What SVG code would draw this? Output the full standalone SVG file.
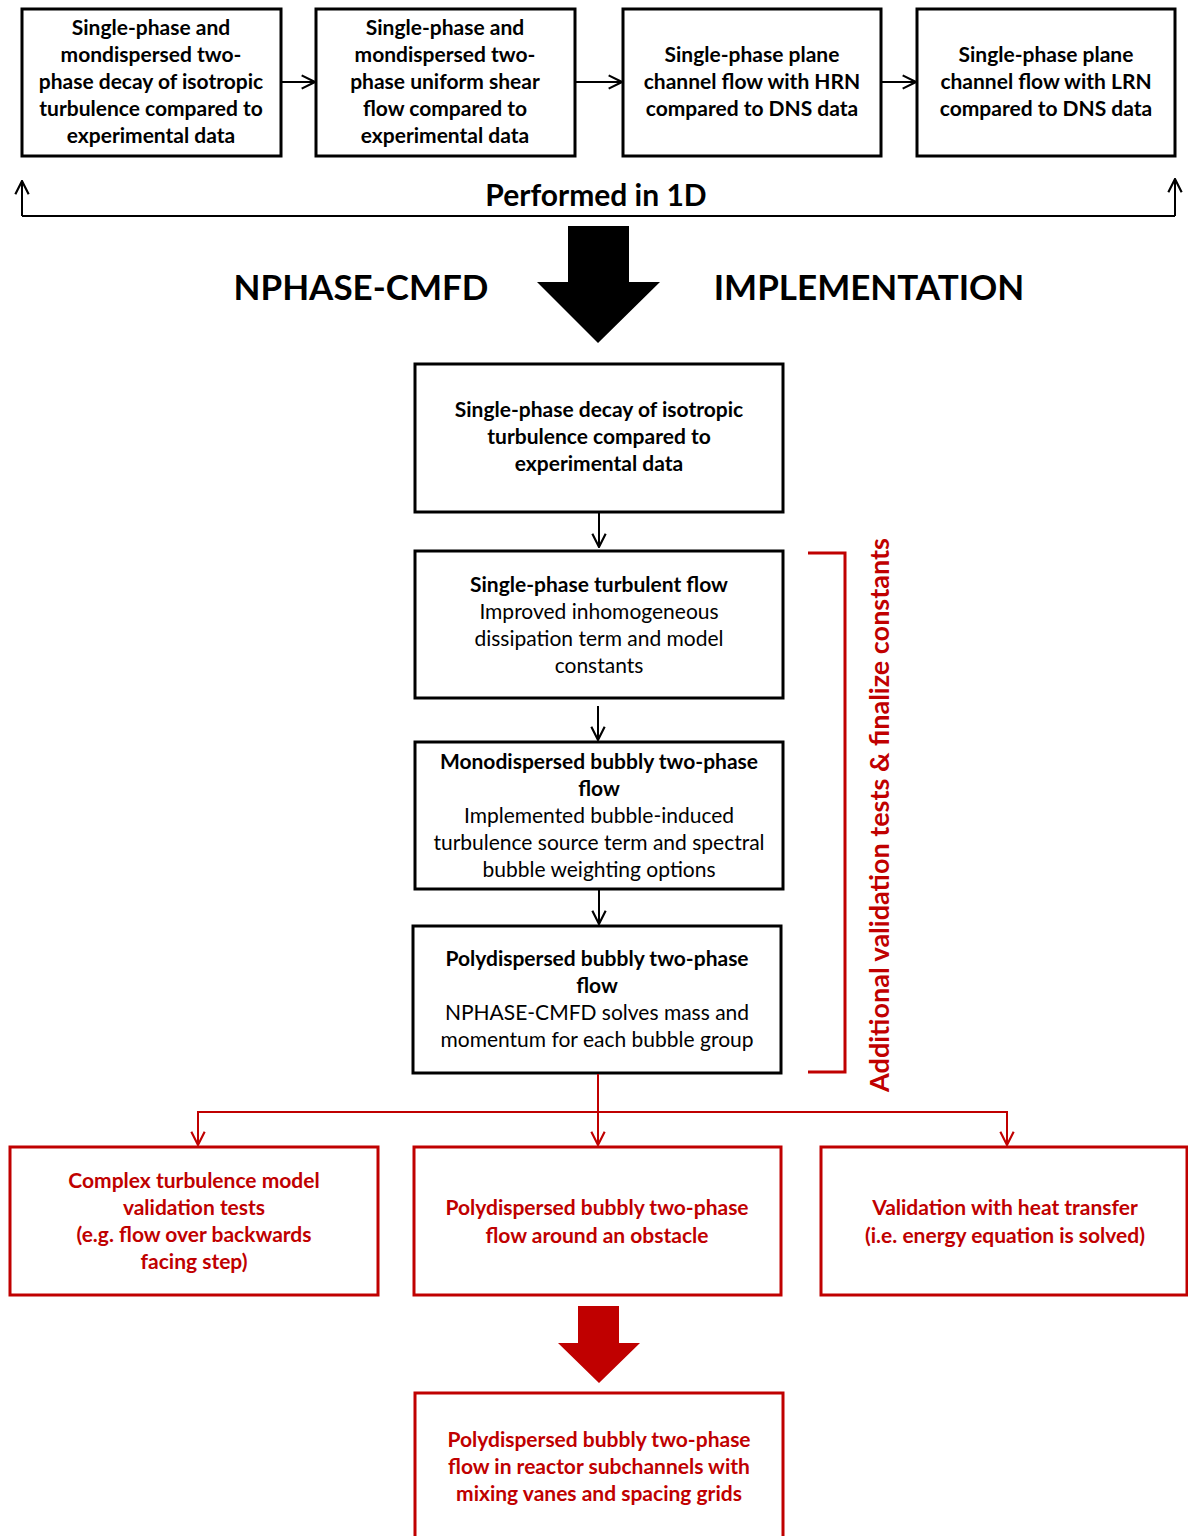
<svg xmlns="http://www.w3.org/2000/svg" width="1188" height="1536" viewBox="0 0 1188 1536">
  <defs>
    <style>
      .box { fill: #ffffff; stroke: #000000; stroke-width: 3; }
      .rbox { fill: #ffffff; stroke: #c00000; stroke-width: 3; }
      .t { font-family: Lato, "Open Sans", sans-serif; font-size: 21px; text-anchor: middle; fill: #000000; }
      .b { font-weight: bold; }
      .r { fill: #c00000; }
      .conn { fill: none; stroke: #000000; stroke-width: 2; }
      .rconn { fill: none; stroke: #c00000; stroke-width: 2; }
      .big { font-family: Lato, "Open Sans", sans-serif; font-weight: bold; fill: #000000; }
    </style>
    <marker id="open" viewBox="0 0 12 12" refX="11" refY="6" markerWidth="16" markerHeight="16" markerUnits="userSpaceOnUse" orient="auto">
      <path d="M1,1 L11,6 L1,11" fill="none" stroke="#000000" stroke-width="1.6"/>
    </marker>
    <marker id="openr" viewBox="0 0 12 12" refX="11" refY="6" markerWidth="16" markerHeight="16" markerUnits="userSpaceOnUse" orient="auto">
      <path d="M1,1 L11,6 L1,11" fill="none" stroke="#c00000" stroke-width="1.6"/>
    </marker>
  </defs>

  <rect width="1188" height="1536" fill="#ffffff"/>

  <!-- 1D stage -->
  <g id="n1">
    <rect class="box" x="22" y="9" width="259" height="147"/>
    <text class="t b" x="151" y="35">Single-phase and</text>
    <text class="t b" x="151" y="62">mondispersed two-</text>
    <text class="t b" x="151" y="89">phase decay of isotropic</text>
    <text class="t b" x="151" y="116">turbulence compared to</text>
    <text class="t b" x="151" y="143">experimental data</text>
  </g>
  <g id="n2">
    <rect class="box" x="316" y="9" width="259" height="147"/>
    <text class="t b" x="445" y="35">Single-phase and</text>
    <text class="t b" x="445" y="62">mondispersed two-</text>
    <text class="t b" x="445" y="89">phase uniform shear</text>
    <text class="t b" x="445" y="116">flow compared to</text>
    <text class="t b" x="445" y="143">experimental data</text>
  </g>
  <g id="n3">
    <rect class="box" x="623" y="9" width="258" height="147"/>
    <text class="t b" x="752" y="62">Single-phase plane</text>
    <text class="t b" x="752" y="89">channel flow with HRN</text>
    <text class="t b" x="752" y="116">compared to DNS data</text>
  </g>
  <g id="n4">
    <rect class="box" x="917" y="9" width="258" height="147"/>
    <text class="t b" x="1046" y="62">Single-phase plane</text>
    <text class="t b" x="1046" y="89">channel flow with LRN</text>
    <text class="t b" x="1046" y="116">compared to DNS data</text>
  </g>

  <g id="label-1d">
    <text class="big" x="596" y="206" font-size="30" text-anchor="middle">Performed in 1D</text>
  </g>

  <!-- implementation banner -->
  <g id="banner">
    <text class="big" x="361" y="300" font-size="35" text-anchor="middle">NPHASE-CMFD</text>
    <polygon points="568,226 629,226 629,282 660,282 598,343 537,282 568,282" fill="#000000"/>
    <text class="big" x="869" y="300" font-size="35" text-anchor="middle">IMPLEMENTATION</text>
  </g>

  <!-- NPHASE-CMFD stages -->
  <g id="n5">
    <rect class="box" x="415" y="364" width="368" height="148"/>
    <text class="t b" x="599" y="417">Single-phase decay of isotropic</text>
    <text class="t b" x="599" y="444">turbulence compared to</text>
    <text class="t b" x="599" y="471">experimental data</text>
  </g>
  <g id="n6">
    <rect class="box" x="415" y="551" width="368" height="147"/>
    <text class="t b" x="599" y="592">Single-phase turbulent flow</text>
    <text class="t" x="599" y="619">Improved inhomogeneous</text>
    <text class="t" x="599" y="646">dissipation term and model</text>
    <text class="t" x="599" y="673">constants</text>
  </g>
  <g id="n7">
    <rect class="box" x="415" y="742" width="368" height="147"/>
    <text class="t b" x="599" y="769">Monodispersed bubbly two-phase</text>
    <text class="t b" x="599" y="796">flow</text>
    <text class="t" x="599" y="823">Implemented bubble-induced</text>
    <text class="t" x="599" y="850">turbulence source term and spectral</text>
    <text class="t" x="599" y="877">bubble weighting options</text>
  </g>
  <g id="n8">
    <rect class="box" x="413" y="926" width="368" height="147"/>
    <text class="t b" x="597" y="966">Polydispersed bubbly two-phase</text>
    <text class="t b" x="597" y="993">flow</text>
    <text class="t" x="597" y="1020">NPHASE-CMFD solves mass and</text>
    <text class="t" x="597" y="1047">momentum for each bubble group</text>
  </g>

  <!-- validation bracket -->
  <g id="bracket">
    <path d="M808,553 H845 V1072 H808" fill="none" stroke="#c00000" stroke-width="3"/>
    <text class="big" transform="translate(889,815) rotate(-90)" font-size="27" text-anchor="middle" style="fill:#c00000">Additional validation tests &amp; finalize constants</text>
  </g>

  <!-- further validation -->
  <g id="n9">
    <rect class="rbox" x="10" y="1147" width="368" height="148"/>
    <text class="t b r" x="194" y="1188">Complex turbulence model</text>
    <text class="t b r" x="194" y="1215">validation tests</text>
    <text class="t b r" x="194" y="1242">(e.g. flow over backwards</text>
    <text class="t b r" x="194" y="1269">facing step)</text>
  </g>
  <g id="n10">
    <rect class="rbox" x="414" y="1147" width="367" height="148"/>
    <text class="t b r" x="597" y="1215">Polydispersed bubbly two-phase</text>
    <text class="t b r" x="597" y="1243">flow around an obstacle</text>
  </g>
  <g id="n11">
    <rect class="rbox" x="821" y="1147" width="366" height="148"/>
    <text class="t b r" x="1005" y="1215">Validation with heat transfer</text>
    <text class="t b r" x="1005" y="1243">(i.e. energy equation is solved)</text>
  </g>

  <g id="arrow-red">
    <polygon points="578,1306 619,1306 619,1343 640,1343 599,1383 558,1343 578,1343" fill="#c00000"/>
  </g>

  <g id="n12">
    <rect class="rbox" x="415" y="1393" width="368" height="160"/>
    <text class="t b r" x="599" y="1447">Polydispersed bubbly two-phase</text>
    <text class="t b r" x="599" y="1474">flow in reactor subchannels with</text>
    <text class="t b r" x="599" y="1501">mixing vanes and spacing grids</text>
  </g>

  <!-- connectors -->
  <g id="connectors">
    <line class="conn" x1="281" y1="82" x2="315" y2="82" marker-end="url(#open)"/>
    <line class="conn" x1="575" y1="82" x2="622" y2="82" marker-end="url(#open)"/>
    <line class="conn" x1="881" y1="82" x2="916" y2="82" marker-end="url(#open)"/>
    <path class="conn" d="M22,216 H1175" stroke-width="3"/>
    <line class="conn" x1="22" y1="216" x2="22" y2="181" marker-end="url(#open)"/>
    <line class="conn" x1="1175" y1="216" x2="1175" y2="179" marker-end="url(#open)"/>
    <line class="conn" x1="599" y1="513" x2="599" y2="547" marker-end="url(#open)"/>
    <line class="conn" x1="598" y1="706" x2="598" y2="740" marker-end="url(#open)"/>
    <line class="conn" x1="599" y1="890" x2="599" y2="924" marker-end="url(#open)"/>
    <line class="rconn" x1="598" y1="1074" x2="598" y2="1145" marker-end="url(#openr)"/>
    <path class="rconn" d="M198,1112 H1007"/>
    <line class="rconn" x1="198" y1="1111" x2="198" y2="1145" marker-end="url(#openr)"/>
    <line class="rconn" x1="1007" y1="1111" x2="1007" y2="1145" marker-end="url(#openr)"/>
  </g>
</svg>
